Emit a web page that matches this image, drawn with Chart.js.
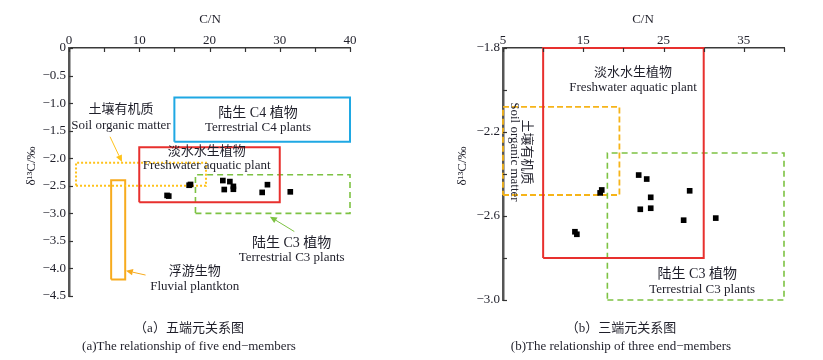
<!DOCTYPE html>
<html><head><meta charset="utf-8">
<script src="https://cdn.jsdelivr.net/npm/chart.js@4.4.1/dist/chart.umd.min.js"></script>
<style>
html,body{margin:0;padding:0;background:#fff;width:823px;height:360px;overflow:hidden}
canvas{position:absolute;top:0}
#ca{left:0}
#cb{left:410px}
</style></head><body>
<canvas id="ca" width="410" height="360"></canvas>
<canvas id="cb" width="413" height="360"></canvas>
<script>
// ---- sample values (C/N, δ13C) ----
const cnValues   = [13.96, 14.2, 17.1, 17.3, 21.9, 22.9, 23.4, 22.1, 23.4, 28.25, 27.5, 31.5];
const d13cValues = [-2.675, -2.687, -2.49, -2.476, -2.405, -2.424, -2.511, -2.568, -2.563, -2.48, -2.62, -2.61];

// ---- end-member ranges [cnMin, cnMax, d13cMin, d13cMax] ----
const c4Box         = [15, 40, -1.7, -0.9];
const freshwaterBox = [10, 30, -2.8, -1.8];
const c3Box         = [18, 40, -3.0, -2.3];
const soilBoxA      = [1, 19.5, -2.5, -2.08];
const soilBoxB      = [5, 19.5, -2.5, -2.08];
const planktonBox   = [6, 8, -4.2, -2.4];

// ---- tick labels ----
const xTickValuesA = [0, 10, 20, 30, 40];
const xTickLabelsA = ['0', '10', '20', '30', '40'];
const yTickValuesA = [0, -0.5, -1.0, -1.5, -2.0, -2.5, -3.0, -3.5, -4.0, -4.5];
const yTickLabelsA = ['0', '\u22120.5', '\u22121.0', '\u22121.5', '\u22122.0', '\u22122.5', '\u22123.0', '\u22123.5', '\u22124.0', '\u22124.5'];
const xTickValuesB = [5, 15, 25, 35];
const xTickLabelsB = ['5', '15', '25', '35'];
const yTickValuesB = [-1.8, -2.2, -2.6, -3.0];
const yTickLabelsB = ['\u22121.8', '\u22122.2', '\u22122.6', '\u22123.0'];

const FONT = "'Liberation Serif', 'Noto Sans CJK SC', serif";
const TEXT = '#1f1f2a';

function lookup(vals, labels) {
  return function (v) {
    const i = vals.findIndex(t => Math.abs(t - v) < 1e-6);
    return i >= 0 ? labels[i] : '';
  };
}
function rectData(b) {
  return [{x:b[0],y:b[2]},{x:b[1],y:b[2]},{x:b[1],y:b[3]},{x:b[0],y:b[3]},{x:b[0],y:b[2]}];
}
function boxDataset(b, color, width, dash) {
  return { type:'line', data: rectData(b), borderColor: color, borderWidth: width,
           borderDash: dash || [], pointRadius: 0, fill: false, tension: 0, clip: false,
           borderJoinStyle: 'miter', borderCapStyle: 'butt', showLine: true };
}
function pointsDataset() {
  return { type:'scatter', data: cnValues.map((x,i)=>({x, y:d13cValues[i]})),
           pointStyle:'rect', pointRadius: 4, backgroundColor:'#000', borderWidth:0, clip:false };
}

const tickMarks = {
  id: 'tickMarks',
  afterDraw(chart) {
    const ctx = chart.ctx, xs = chart.scales.x, ys = chart.scales.y, a = chart.chartArea;
    ctx.save();
    ctx.strokeStyle = '#333'; ctx.lineWidth = 1.2;
    xs.ticks.forEach(t => {
      const p = Math.round(xs.getPixelForValue(t.value)) + 0.5;
      ctx.beginPath(); ctx.moveTo(p, a.top); ctx.lineTo(p, a.top + 4); ctx.stroke();
    });
    ys.ticks.forEach(t => {
      const p = Math.round(ys.getPixelForValue(t.value)) + 0.5;
      ctx.beginPath(); ctx.moveTo(a.left, p); ctx.lineTo(a.left + 4, p); ctx.stroke();
    });
    ctx.restore();
  }
};

const annot = {
  id: 'annot',
  afterDraw(chart, args, opts) {
    const ctx = chart.ctx, xs = chart.scales.x, ys = chart.scales.y;
    const P = (x, y) => [xs.getPixelForValue(x), ys.getPixelForValue(y)];
    (opts.arrows || []).forEach(a => {
      const [x0, y0] = P(a.from[0], a.from[1]);
      const [x1, y1] = P(a.to[0], a.to[1]);
      const ang = Math.atan2(y1 - y0, x1 - x0), L = 7, W = 3.2;
      ctx.save();
      ctx.strokeStyle = a.color; ctx.fillStyle = a.color; ctx.lineWidth = 1;
      ctx.beginPath(); ctx.moveTo(x0, y0);
      ctx.lineTo(x1 - L * Math.cos(ang), y1 - L * Math.sin(ang)); ctx.stroke();
      ctx.beginPath(); ctx.moveTo(x1, y1);
      ctx.lineTo(x1 - L * Math.cos(ang) - W * Math.sin(ang), y1 - L * Math.sin(ang) + W * Math.cos(ang));
      ctx.lineTo(x1 - L * Math.cos(ang) + W * Math.sin(ang), y1 - L * Math.sin(ang) - W * Math.cos(ang));
      ctx.closePath(); ctx.fill();
      ctx.restore();
    });
    const drawText = (t, px, py) => {
      ctx.save(); ctx.translate(px, py); ctx.rotate((t.rot || 0) * Math.PI / 180);
      ctx.font = (t.size || 13) + 'px ' + FONT; ctx.fillStyle = TEXT;
      ctx.textAlign = 'center'; ctx.textBaseline = 'middle';
      ctx.fillText(t.text, 0, 0); ctx.restore();
    };
    (opts.texts || []).forEach(t => { const [px, py] = P(t.x, t.y); drawText(t, px, py); });
    (opts.pixelTexts || []).forEach(t => drawText(t, t.px, t.py));
  }
};

function makeChart(id, cfg) {
  return new Chart(document.getElementById(id), {
    data: { datasets: cfg.datasets },
    options: {
      responsive: false, animation: false, devicePixelRatio: 1, events: [],
      layout: { padding: cfg.padding },
      plugins: { legend: { display: false }, tooltip: { enabled: false }, annot: cfg.annot },
      scales: {
        x: { type: 'linear', position: 'top', min: cfg.x.min, max: cfg.x.max,
             afterFit: s => { s.height = 48; },
             grid: { display: true, drawOnChartArea: false, drawTicks: false },
             border: { display: true, color: '#3a3a3a', width: 1.5 },
             ticks: { stepSize: cfg.x.step, autoSkip: false, maxRotation: 0, padding: 0,
                      color: TEXT, font: { family: FONT, size: 13 }, callback: cfg.x.cb } },
        y: { type: 'linear', position: 'left', min: cfg.y.min, max: cfg.y.max,
             afterFit: s => { s.width = cfg.yWidth; },
             grid: { display: true, drawOnChartArea: false, drawTicks: false },
             border: { display: true, color: '#555', width: 2.5 },
             ticks: { stepSize: cfg.y.step, autoSkip: false, padding: 3,
                      color: TEXT, font: { family: FONT, size: 13 }, callback: cfg.y.cb } }
      }
    },
    plugins: [tickMarks, annot]
  });
}

const RED = '#e8302e', BLUE = '#1fa8e3', GREEN = '#7dc243', GOLD = '#ffc21a', ORANGE = '#f7ab1e', AMBER = '#f6b419';

makeChart('ca', {
  padding: { left: 0, top: 0, right: 60, bottom: 64 },
  yWidth: 69,
  x: { min: 0, max: 40, step: 5, cb: lookup(xTickValuesA, xTickLabelsA) },
  y: { min: -4.5, max: 0, step: 0.5, cb: lookup(yTickValuesA, yTickLabelsA) },
  datasets: [
    pointsDataset(),
    boxDataset(c4Box, BLUE, 2),
    boxDataset(freshwaterBox, RED, 2),
    boxDataset(c3Box, GREEN, 1.6, [6, 4]),
    boxDataset(soilBoxA, GOLD, 2, [2, 2]),
    boxDataset(planktonBox, ORANGE, 2)
  ],
  annot: {
    arrows: [
      { from: [5.84, -1.61], to: [7.54, -2.07], color: GOLD },
      { from: [32.07, -3.33], to: [28.6, -3.06], color: GREEN },
      { from: [10.9, -4.12], to: [8.1, -4.04], color: ORANGE }
    ],
    texts: [
      { text: '土壤有机质', x: 7.4, y: -1.12, size: 13 },
      { text: 'Soil organic matter', x: 7.4, y: -1.41 },
      { text: '陆生 C4 植物', x: 26.9, y: -1.18, size: 14 },
      { text: 'Terrestrial C4 plants', x: 26.9, y: -1.45 },
      { text: '淡水水生植物', x: 19.6, y: -1.88, size: 13 },
      { text: 'Freshwater aquatic plant', x: 19.6, y: -2.14 },
      { text: '陆生 C3 植物', x: 31.7, y: -3.54, size: 14 },
      { text: 'Terrestrial C3 plants', x: 31.7, y: -3.81 },
      { text: '浮游生物', x: 17.9, y: -4.06, size: 13 },
      { text: 'Fluvial plantkton', x: 17.9, y: -4.32 }
    ],
    pixelTexts: [
      { text: 'C/N', px: 210, py: 20 },
      { text: '\u03b4\u00b9\u00b3C/\u2030', px: 32, py: 166, rot: -90 },
      { text: '（a）五端元关系图', px: 189, py: 329 },
      { text: '(a)The relationship of five end\u2212members', px: 189, py: 347 }
    ]
  }
});

makeChart('cb', {
  padding: { left: 0, top: 0, right: 39, bottom: 60 },
  yWidth: 93,
  x: { min: 5, max: 40, step: 5, cb: lookup(xTickValuesB, xTickLabelsB) },
  y: { min: -3.0, max: -1.8, step: 0.2, cb: lookup(yTickValuesB, yTickLabelsB) },
  datasets: [
    pointsDataset(),
    boxDataset(freshwaterBox, RED, 2),
    boxDataset(c3Box, GREEN, 1.6, [6, 4]),
    boxDataset(soilBoxB, AMBER, 1.8, [6, 3])
  ],
  annot: {
    texts: [
      { text: '淡水水生植物', x: 21.2, y: -1.919, size: 13 },
      { text: 'Freshwater aquatic plant', x: 21.2, y: -1.99 },
      { text: '土壤有机质', x: 7.96, y: -2.295, size: 13, rot: 90 },
      { text: 'Soil organic matter', x: 6.46, y: -2.295, rot: 90 },
      { text: '陆生 C3 植物', x: 29.2, y: -2.876, size: 14 },
      { text: 'Terrestrial C3 plants', x: 29.8, y: -2.948 }
    ],
    pixelTexts: [
      { text: 'C/N', px: 233, py: 20 },
      { text: '\u03b4\u00b9\u00b3C/\u2030', px: 53, py: 166, rot: -90 },
      { text: '（b）三端元关系图', px: 211, py: 329 },
      { text: '(b)The relationship of three end\u2212members', px: 211, py: 347 }
    ]
  }
});
</script>
</body></html>
